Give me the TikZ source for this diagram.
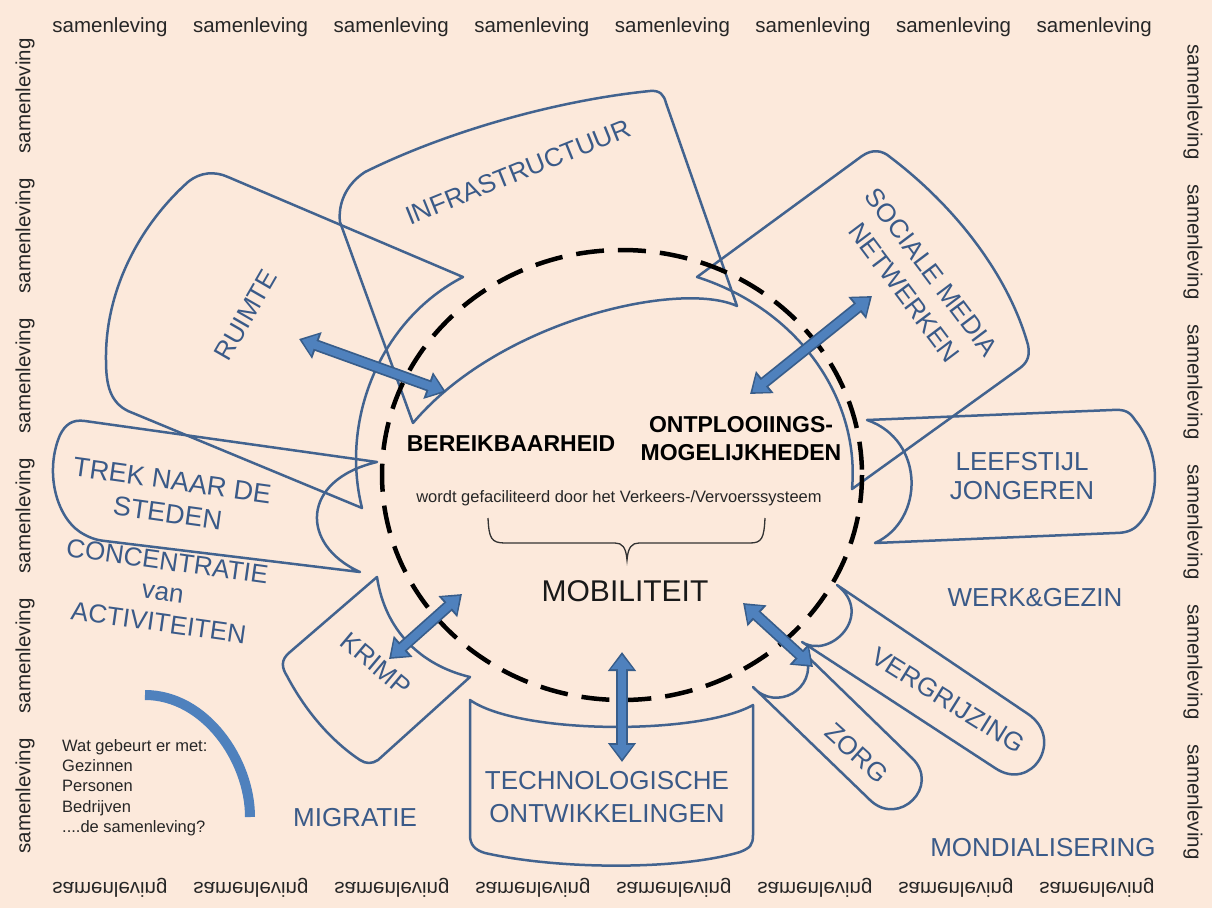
\documentclass[tikz,border=0pt]{standalone}
\usepackage{fontspec}
\setmainfont{Liberation Sans}
\usepackage{tikz}
\usetikzlibrary{arrows.meta}
\definecolor{peach}{RGB}{252,233,219}
\definecolor{tabblue}{RGB}{66,99,143}
\definecolor{labelblue}{RGB}{58,90,136}
\definecolor{arrowblue}{RGB}{79,129,189}
\definecolor{arrowedge}{RGB}{56,93,138}
\tikzset{
    tab/.style={draw=tabblue, line width=2.5pt, line join=round},
    tablabel/.style={text=labelblue, font=\fontsize{26}{31}\selectfont, align=center, inner sep=0pt},
    border/.style={text=black!85, font=\fontsize{20.5}{20.5}\selectfont, inner sep=0pt},
    core/.style={text=black, font=\bfseries\fontsize{23}{28}\selectfont, align=center, inner sep=0pt},
    ring/.style={draw=black, line width=4.5pt, dash pattern=on 28pt off 14pt},
    fatedge/.style={line width=11.5pt, draw=arrowedge, arrows={Triangle[length=19pt,width=27pt]-Triangle[length=19pt,width=27pt]}},
    fatfill/.style={line width=8pt, draw=arrowblue, arrows={Triangle[length=14pt,width=21pt]-Triangle[length=14pt,width=21pt]}, shorten >=3pt, shorten <=3pt},
}

\begin{document}
\begin{tikzpicture}[x=1pt, y=-1pt]
    \useasboundingbox (0,0) rectangle (1212,908);
    \fill[peach] (0,0) rectangle (1212,908);

    % samenleving all round
    \foreach \i in {0,...,7} {
        \node[border] (top\i) at (110+140.6*\i,27) {samenleving};
        \node[border, yscale=-1] (bot\i) at (110+141*\i,888) {samenleving};
    }
    \foreach \i in {0,...,5} {
        \node[border, rotate=90] (left\i) at (25,96+140*\i) {samenleving};
        \node[border, rotate=-90] (right\i) at (1193,102+140*\i) {samenleving};
    }

    % the tabs round the circle
    \draw[tab] (463,277) -- (228,177) .. controls (215,171) and (200,172) .. (188,182)
        .. controls (140,225) and (105,290) .. (106,360) .. controls (106,385) and (110,402) .. (128,411)
        -- (362,508) .. controls (340,420) and (380,320) .. (463,277) -- cycle;
    \draw[tab] (413,423) -- (340,222) .. controls (338,205) and (345,185) .. (365,172)
        .. controls (450,130) and (560,100) .. (650,91) .. controls (660,90) and (664,95) .. (666,103)
        -- (737,306) .. controls (680,280) and (500,320) .. (413,423) -- cycle;
    \draw[tab] (697,277) -- (862,156) .. controls (872,149) and (882,150) .. (890,157)
        .. controls (960,210) and (1010,280) .. (1028,345) .. controls (1030,355) and (1028,362) .. (1020,368)
        -- (852,489) .. controls (860,400) and (800,310) .. (697,277) -- cycle;
    \draw[tab] (867,420) -- (1112,410) .. controls (1125,409) and (1130,412) .. (1135,420)
        .. controls (1160,450) and (1162,500) .. (1138,525) .. controls (1132,531) and (1125,533) .. (1115,533)
        -- (875,543) .. controls (925,520) and (925,440) .. (867,420) -- cycle;
    \draw[tab] (377,462) -- (85,421) .. controls (72,419) and (65,425) .. (60,435)
        .. controls (45,470) and (55,515) .. (80,532) .. controls (88,537) and (95,540) .. (105,541)
        -- (360,572) .. controls (300,545) and (300,480) .. (377,462) -- cycle;
    \draw[tab] (377,577) -- (290,652) .. controls (280,660) and (282,668) .. (287,676)
        .. controls (305,710) and (330,740) .. (360,760) .. controls (366,764) and (372,764) .. (378,760)
        -- (470,677) .. controls (420,665) and (385,630) .. (377,577) -- cycle;
    \draw[tab] (470,700) -- (470,835) .. controls (470,845) and (475,850) .. (485,853)
        .. controls (560,870) and (680,870) .. (740,852) .. controls (750,848) and (753,845) .. (753,835)
        -- (753,705) .. controls (700,735) and (520,735) .. (470,700) -- cycle;
    \draw[tab] (837,585) -- (1028,714) .. controls (1065,739) and (1032,793) .. (995,768)
        -- (802,642) .. controls (830,660) and (875,615) .. (837,585) -- cycle;
    \draw[tab] (806,655) -- (912,758) .. controls (941,786) and (899,828) .. (870,800)
        -- (753,687) .. controls (775,712) and (818,690) .. (806,655) -- cycle;

    % dashed ring and the brace
    \coordinate (hub) at (622,475);
    \draw[ring] (hub) ellipse [x radius=240, y radius=225];
    \draw[black!80, line width=1.3pt] (488,518) .. controls (489,538) and (491,543) .. (505,543)
        -- (615,543) .. controls (622,543) and (626,547) .. (627,560)
        .. controls (628,547) and (632,543) .. (639,543) -- (750,543)
        .. controls (762,543) and (764,538) .. (765,518);

    % labels
    \node[tablabel, rotate=60] (ruimte) at (246,315) {RUIMTE};
    \node[tablabel, rotate=22] (infra) at (518,172) {INFRASTRUCTUUR};
    \node[tablabel, rotate=-53, font=\fontsize{26}{34}\selectfont] (sociaal) at (918,282) {SOCIALE MEDIA\\NETWERKEN};
    \node[tablabel, font=\fontsize{26}{29}\selectfont] (leefstijl) at (1022,476) {LEEFSTIJL\\JONGEREN};
    \node[tablabel, rotate=-8, font=\fontsize{27}{33}\selectfont] (trek) at (170,497) {TREK NAAR DE\\STEDEN};
    \node[tablabel, rotate=-8] (concentratie) at (163,592) {CONCENTRATIE\\van\\ACTIVITEITEN};
    \node[tablabel, rotate=-40] (krimp) at (376,664) {KRIMP};
    \node[tablabel, font=\fontsize{26}{33}\selectfont] (techno) at (607,797) {TECHNOLOGISCHE\\ONTWIKKELINGEN};
    \node[tablabel, rotate=-32] (vergrijzing) at (948,700) {VERGRIJZING};
    \node[tablabel, rotate=-42] (zorg) at (857,753) {ZORG};
    \node[tablabel] (migratie) at (355,818) {MIGRATIE};
    \node[tablabel] (werk) at (1035,598) {WERK\&GEZIN};
    \node[tablabel] (mondial) at (1043,848) {MONDIALISERING};

    \node[core] (bereik) at (511,444) {BEREIKBAARHEID};
    \node[core] (ontplooi) at (741,439) {ONTPLOOIINGS-\\MOGELIJKHEDEN};
    \node[text=black!85, font=\fontsize{16.5}{20}\selectfont, inner sep=0pt] (vervoer) at (619,498) {wordt gefaciliteerd door het Verkeers-/Vervoerssysteem};
    \node[text=black!90, font=\fontsize{30}{36}\selectfont, inner sep=0pt] (mobiliteit) at (625,591) {MOBILITEIT};

    \node[anchor=north west, align=left, text=black!85, font=\fontsize{16.5}{20.3}\selectfont, inner sep=0pt] (wat) at (62,739)
        {Wat gebeurt er met:\\Gezinnen\\Personen\\Bedrijven\\....de samenleving?};

    % thick arc next to the question
    \coordinate (arcA) at (145,695);
    \coordinate (arcB) at (250,817);
    \draw[arrowblue, line width=10pt] (arcA) .. controls (205,695) and (250,760) .. (arcB);

    % double arrows
    \coordinate (ru1) at (299,339);  \coordinate (ru2) at (446,392);
    \coordinate (so1) at (872,296);  \coordinate (so2) at (750,394);
    \coordinate (kr1) at (462,594);  \coordinate (kr2) at (389,659);
    \coordinate (te1) at (622,652);  \coordinate (te2) at (622,762);
    \coordinate (ve1) at (743,603);  \coordinate (ve2) at (813,667);
    \foreach \a/\b in {ru1/ru2, so1/so2, kr1/kr2, te1/te2, ve1/ve2} {
        \draw[fatedge] (\a) -- (\b);
        \draw[fatfill] (\a) -- (\b);
    }
\end{tikzpicture}
\end{document}
